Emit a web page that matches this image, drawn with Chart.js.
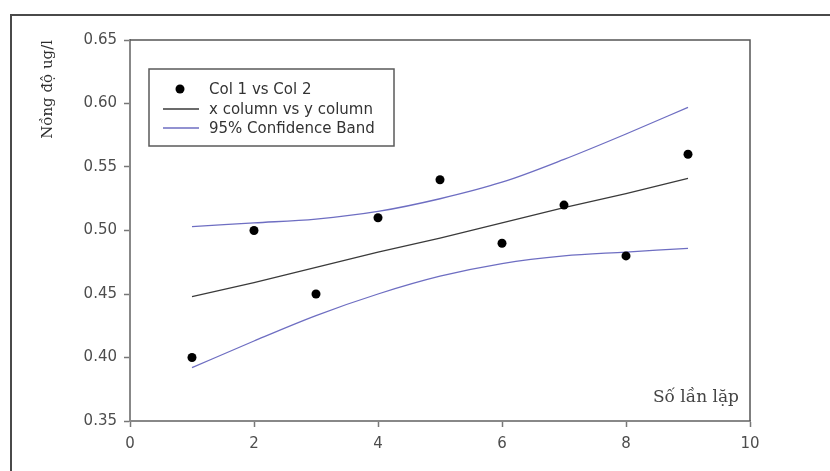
<!DOCTYPE html>
<html>
<head>
<meta charset="utf-8">
<script src="https://cdn.jsdelivr.net/npm/chart.js@4/dist/chart.umd.min.js"></script>
<style>
  html, body { margin: 0; padding: 0; background: #fff; }
  #wrap { position: relative; width: 830px; height: 471px; }
</style>
</head>
<body>
<div id="wrap"><canvas id="c"></canvas></div>
<script>
// ---- data ----
const xValues   = [1, 2, 3, 4, 5, 6, 7, 8, 9];
const colTwo    = [0.40, 0.50, 0.45, 0.51, 0.54, 0.49, 0.52, 0.48, 0.56];
const fitLine   = [0.448, 0.459, 0.471, 0.483, 0.494, 0.506, 0.518, 0.529, 0.541];
const upperBand = [0.503, 0.506, 0.509, 0.515, 0.525, 0.538, 0.556, 0.576, 0.597];
const lowerBand = [0.392, 0.413, 0.433, 0.450, 0.464, 0.474, 0.480, 0.483, 0.486];
const xTicks    = [0, 2, 4, 6, 8, 10];
const yTicks    = [0.35, 0.40, 0.45, 0.50, 0.55, 0.60, 0.65];
const legendLabels = ['Col 1 vs Col 2', 'x column vs y column', '95% Confidence Band'];
const yTitle = 'Nồng độ ug/l';
const xTitle = 'Số lần lặp';

const toPts = (ys) => xValues.map((x, i) => ({ x: x, y: ys[i] }));
const bandColor = '#6e6ec2';
const fitColor = '#3a3a3a';

const decor = {
  id: 'decor',
  beforeDraw(chart) {
    const ctx = chart.ctx;
    ctx.save();
    ctx.fillStyle = '#fff';
    ctx.fillRect(0, 0, chart.width, chart.height);
    ctx.strokeStyle = '#4a4a4a';
    ctx.lineWidth = 2;
    ctx.beginPath();
    ctx.moveTo(11, chart.height);
    ctx.lineTo(11, 15);
    ctx.lineTo(chart.width, 15);
    ctx.stroke();
    ctx.restore();
  },
  afterDraw(chart) {
    const ctx = chart.ctx;
    const { left, right, top, bottom } = chart.chartArea;
    ctx.save();
    // top & right frame of plot
    ctx.strokeStyle = '#555';
    ctx.lineWidth = 1.5;
    ctx.beginPath();
    ctx.moveTo(left, top);
    ctx.lineTo(right, top);
    ctx.lineTo(right, bottom);
    ctx.stroke();
    // x axis title inside plot
    ctx.fillStyle = '#444';
    ctx.font = '17px "DejaVu Serif"';
    ctx.textAlign = 'right';
    ctx.textBaseline = 'middle';
    ctx.fillText(xTitle, right - 11, bottom - 23);
    // legend box
    const bx = left + 19, by = top + 29, bw = 245, bh = 77;
    ctx.fillStyle = '#fff';
    ctx.fillRect(bx, by, bw, bh);
    ctx.strokeStyle = '#5a5a5a';
    ctx.lineWidth = 1.5;
    ctx.strokeRect(bx, by, bw, bh);
    const rows = [by + 20, by + 40, by + 59];
    ctx.font = '15px "DejaVu Sans"';
    ctx.textAlign = 'left';
    legendLabels.forEach((lab, i) => {
      const ds = chart.data.datasets[i];
      const y = rows[i];
      if (i === 0) {
        ctx.beginPath();
        ctx.arc(bx + 31, y, 4.5, 0, Math.PI * 2);
        ctx.fillStyle = ds.backgroundColor;
        ctx.fill();
      } else {
        ctx.beginPath();
        ctx.strokeStyle = ds.borderColor;
        ctx.lineWidth = 1.3;
        ctx.moveTo(bx + 14, y);
        ctx.lineTo(bx + 50, y);
        ctx.stroke();
      }
      ctx.fillStyle = '#333';
      ctx.fillText(lab, bx + 60, y + 1);
    });
    ctx.restore();
  }
};

new Chart(document.getElementById('c'), {
  type: 'scatter',
  data: {
    datasets: [
      { label: legendLabels[0], data: toPts(colTwo), backgroundColor: '#000', borderColor: '#000',
        pointRadius: 4.5, pointBorderWidth: 0, showLine: false, order: 0 },
      { label: legendLabels[1], data: toPts(fitLine), borderColor: fitColor, backgroundColor: fitColor,
        borderWidth: 1.2, pointRadius: 0, showLine: true, order: 1 },
      { label: legendLabels[2], data: toPts(upperBand), borderColor: bandColor, backgroundColor: bandColor,
        borderWidth: 1.3, pointRadius: 0, showLine: true, cubicInterpolationMode: 'monotone', order: 2 },
      { label: legendLabels[2] + ' (lower)', data: toPts(lowerBand), borderColor: bandColor, backgroundColor: bandColor,
        borderWidth: 1.3, pointRadius: 0, showLine: true, cubicInterpolationMode: 'monotone', order: 2 }
    ]
  },
  options: {
    responsive: true,
    maintainAspectRatio: false,
    animation: false,
    layout: { padding: { top: 40, right: 80, left: 0, bottom: 0 } },
    plugins: { legend: { display: false }, tooltip: { enabled: false } },
    scales: {
      x: {
        type: 'linear', min: xTicks[0], max: xTicks[xTicks.length - 1],
        afterFit(s) { s.height = 50; },
        afterBuildTicks(s) { s.ticks = xTicks.map(v => ({ value: v })); },
        grid: { drawOnChartArea: false, drawTicks: true, tickLength: 6, tickColor: '#777', tickWidth: 1.5 },
        border: { display: true, color: '#888', width: 2 },
        ticks: { color: '#4d4d4d', padding: 8, font: { family: 'DejaVu Sans', size: 15 },
                 callback: v => String(v) }
      },
      y: {
        type: 'linear', min: yTicks[0], max: yTicks[yTicks.length - 1],
        afterFit(s) { s.width = 130; },
        afterBuildTicks(s) { s.ticks = yTicks.map(v => ({ value: v })); },
        grid: { drawOnChartArea: false, drawTicks: true, tickLength: 6, tickColor: '#777', tickWidth: 1.5 },
        border: { display: true, color: '#888', width: 2 },
        ticks: { color: '#4d4d4d', padding: 7, font: { family: 'DejaVu Sans', size: 15 },
                 callback: v => Number(v).toFixed(2) },
        title: { display: true, text: yTitle, align: 'end', color: '#2e2e2e',
                 font: { family: 'DejaVu Serif', size: 15 }, padding: { top: 39, bottom: 0 } }
      }
    }
  },
  plugins: [decor]
});
</script>
</body>
</html>
